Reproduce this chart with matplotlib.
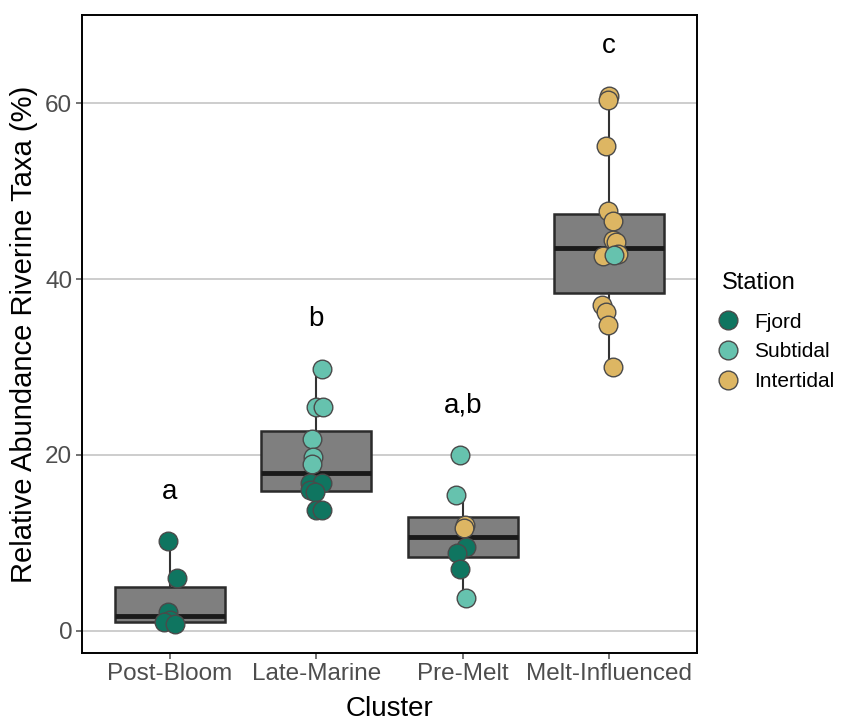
import numpy as np
import matplotlib
matplotlib.use("Agg")
import matplotlib.pyplot as plt
from matplotlib.lines import Line2D

plt.rcParams['font.family'] = ['Liberation Sans', 'DejaVu Sans']

# Categorias y valores
clusters = ['Post-Bloom', 'Late-Marine', 'Pre-Melt', 'Melt-Influenced']
letters = ['a', 'b', 'a,b', 'c']
letter_y = [15.8, 35.5, 25.6, 66.5]

stations = ['Fjord', 'Subtidal', 'Intertidal']
station_colors = {'Fjord': '#0f7560', 'Subtidal': '#66c2ae', 'Intertidal': '#ddb663'}

post_bloom_val = [10.2, 6.0, 2.2, 1.2, 1.0, 0.8]
post_bloom_sta = ['Fjord'] * 6
post_bloom_jit = [-0.014, 0.048, -0.014, 0.0, -0.043, 0.032]

late_marine_val = [29.8, 25.4, 25.4, 21.8, 19.8, 19.0, 16.8, 16.8, 16.0, 15.8, 13.7, 13.7]
late_marine_sta = ['Subtidal'] * 6 + ['Fjord'] * 6
late_marine_jit = [0.036, 0.0, 0.048, -0.03, -0.02, -0.03, -0.043, 0.036, -0.043, -0.01, 0.0, 0.036]

pre_melt_val = [20.0, 15.5, 12.1, 11.65, 9.6, 8.9, 7.1, 3.7]
pre_melt_sta = ['Subtidal', 'Subtidal', 'Intertidal', 'Intertidal', 'Fjord', 'Fjord', 'Fjord', 'Subtidal']
pre_melt_jit = [-0.02, -0.043, 0.018, 0.007, 0.023, -0.039, -0.016, 0.023]

melt_val = [60.8, 60.3, 55.1, 47.7, 46.6, 44.4, 44.2, 42.8, 42.6, 42.7, 37.05, 36.3, 34.8, 30.05]
melt_sta = ['Intertidal'] * 9 + ['Subtidal'] + ['Intertidal'] * 4
melt_jit = [0.0, -0.011, -0.023, -0.011, 0.023, 0.023, 0.046, 0.057, -0.039, 0.034, -0.046, -0.023, -0.011, 0.027]

values = [post_bloom_val, late_marine_val, pre_melt_val, melt_val]
station_of = [post_bloom_sta, late_marine_sta, pre_melt_sta, melt_sta]
jitter = [post_bloom_jit, late_marine_jit, pre_melt_jit, melt_jit]

fig = plt.figure(figsize=(8.47, 7.22), dpi=100)
ax = fig.add_axes([0.0968, 0.0956, 0.7262, 0.8836])

pos = np.arange(1, len(clusters) + 1)
ax.boxplot(values, positions=pos, widths=0.75, patch_artist=True, showfliers=False,
           boxprops=dict(facecolor='#7f7f7f', edgecolor='#2b2b2b', linewidth=1.8),
           whiskerprops=dict(color='#333333', linewidth=1.5),
           capprops=dict(linewidth=0),
           medianprops=dict(color='#1a1a1a', linewidth=3.5),
           zorder=2)

for i in range(len(clusters)):
    for v, s, j in zip(values[i], station_of[i], jitter[i]):
        ax.scatter(pos[i] + j, v, s=180, color=station_colors[s], edgecolor='#4a4a4a',
                   linewidth=1.0, zorder=3)
    ax.text(pos[i], letter_y[i], letters[i], ha='center', va='center', fontsize=20, color='black')

ax.set_xlim(0.4, 4.6)
ax.set_ylim(-2.5, 70)
ax.set_xticks(pos)
ax.set_xticklabels(clusters)
ax.set_yticks([0, 20, 40, 60])
ax.yaxis.grid(True, color='#c0c0c0', linewidth=1.1, zorder=0)
ax.set_axisbelow(True)
ax.tick_params(axis='both', labelsize=17.5, colors='#4d4d4d', length=4, width=1.1, pad=3)
for sp in ax.spines.values():
    sp.set_color('black')
    sp.set_linewidth(1.4)

ax.set_xlabel('Cluster', fontsize=20, labelpad=8)
ax.set_ylabel('Relative Abundance Riverine Taxa (%)', fontsize=21, labelpad=5)

# Leyenda
handles = [Line2D([0], [0], marker='o', linestyle='', markersize=13.5,
                  markerfacecolor=station_colors[s], markeredgecolor='#4a4a4a',
                  markeredgewidth=1.0, label=s) for s in stations]
fig.legend(handles=handles, loc='center left', bbox_to_anchor=(0.841, 0.5125),
           frameon=False, fontsize=15, handletextpad=0.5, labelspacing=0.52,
           borderaxespad=0, borderpad=0, handlelength=1.5)
fig.text(722 / 847, 1 - 283 / 722, 'Station', fontsize=17, ha='left', va='center')

fig.savefig('out.png', dpi=100)
